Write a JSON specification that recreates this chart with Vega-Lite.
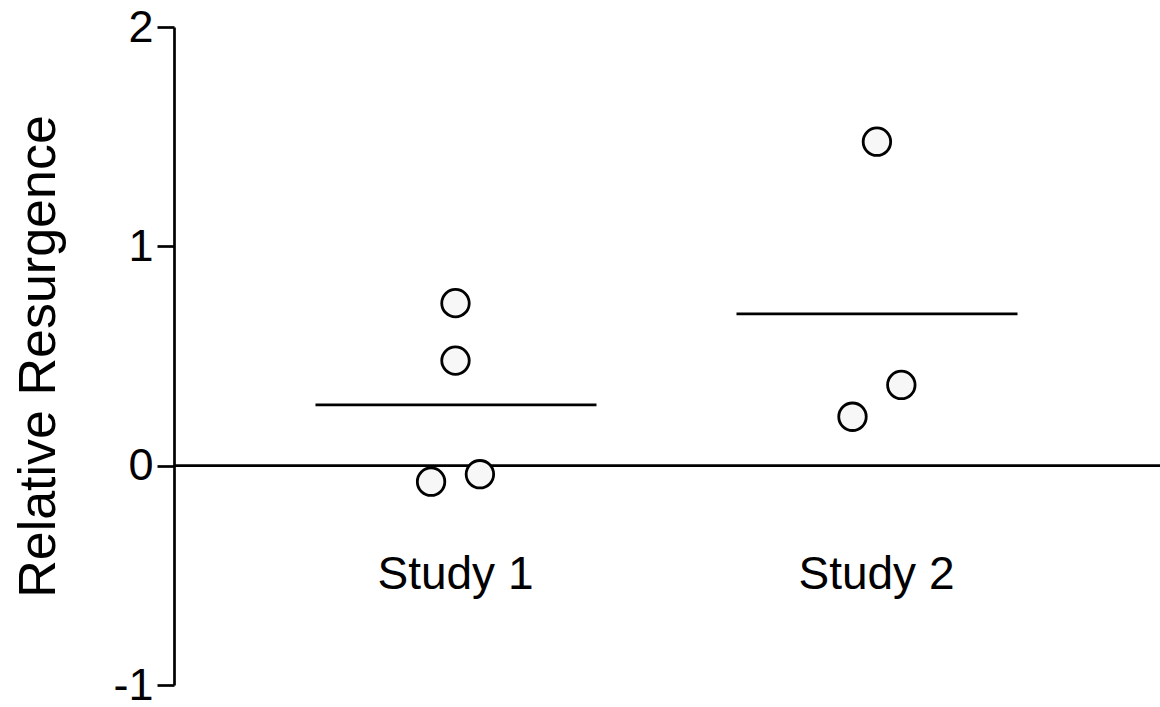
{
  "$schema": "https://vega.github.io/schema/vega-lite/v6.json",
  "width": 986,
  "height": 658,
  "autosize": {"type": "none"},
  "padding": {"left": 174, "top": 27, "right": 0, "bottom": 22},
  "background": "white",
  "config": {"view": {"stroke": null}, "font": "Liberation Sans"},
  "datasets": {
    "points": [
      {"study": "Study 1", "pos": 1.0, "value": 0.741},
      {"study": "Study 1", "pos": 1.0, "value": 0.479},
      {"study": "Study 1", "pos": 0.942, "value": -0.073},
      {"study": "Study 1", "pos": 1.058, "value": -0.039},
      {"study": "Study 2", "pos": 2.001, "value": 1.477},
      {"study": "Study 2", "pos": 2.059, "value": 0.368},
      {"study": "Study 2", "pos": 1.943, "value": 0.223}
    ],
    "means": [
      {"study": "Study 1", "pos": 1, "mean": 0.277},
      {"study": "Study 2", "pos": 2, "mean": 0.692}
    ]
  },
  "layer": [
    {
      "data": {"values": [{"zero": 0}]},
      "mark": {"type": "rule", "stroke": "black", "strokeWidth": 2.7},
      "encoding": {
        "y": {"field": "zero", "type": "quantitative", "scale": {"domain": [-1, 2], "nice": false, "zero": false},
          "axis": {
            "values": [-1, 0, 1, 2],
            "labelExpr": "'' + datum.value",
            "grid": false,
            "domainColor": "black",
            "domainWidth": 2.7,
            "tickColor": "black",
            "tickWidth": 2.7,
            "tickSize": 17,
            "labelFontSize": 45,
            "labelColor": "black",
            "labelPadding": 4,
            "labelFont": "Liberation Sans",
            "title": "Relative Resurgence",
            "titleFont": "Liberation Sans",
            "titleFontSize": 52,
            "titleFontWeight": "normal",
            "titleColor": "black",
            "titleBaseline": "alphabetic",
            "titleAngle": -90,
            "titleAlign": "center",
            "titleX": -120,
            "titleY": 329
          }
        }
      }
    },
    {
      "data": {"name": "means"},
      "mark": {"type": "rule", "stroke": "black", "strokeWidth": 2.7, "xOffset": -140, "x2Offset": 141},
      "encoding": {
        "x": {"field": "pos", "type": "quantitative", "scale": {"domain": [0.3314, 2.6734], "nice": false, "zero": false}, "axis": null},
        "x2": {"field": "pos"},
        "y": {"field": "mean", "type": "quantitative"}
      }
    },
    {
      "data": {"name": "points"},
      "mark": {"type": "point", "shape": "circle", "filled": false, "fill": "#f7f7f7", "fillOpacity": 1, "stroke": "black", "strokeWidth": 2.8, "opacity": 1, "size": 755},
      "encoding": {
        "x": {"field": "pos", "type": "quantitative"},
        "y": {"field": "value", "type": "quantitative"}
      }
    },
    {
      "data": {"name": "means"},
      "mark": {"type": "text", "fontSize": 46, "font": "Liberation Sans", "color": "black", "baseline": "alphabetic", "align": "center"},
      "encoding": {
        "x": {"field": "pos", "type": "quantitative"},
        "y": {"datum": -0.562, "type": "quantitative"},
        "text": {"field": "study"}
      }
    }
  ]
}
